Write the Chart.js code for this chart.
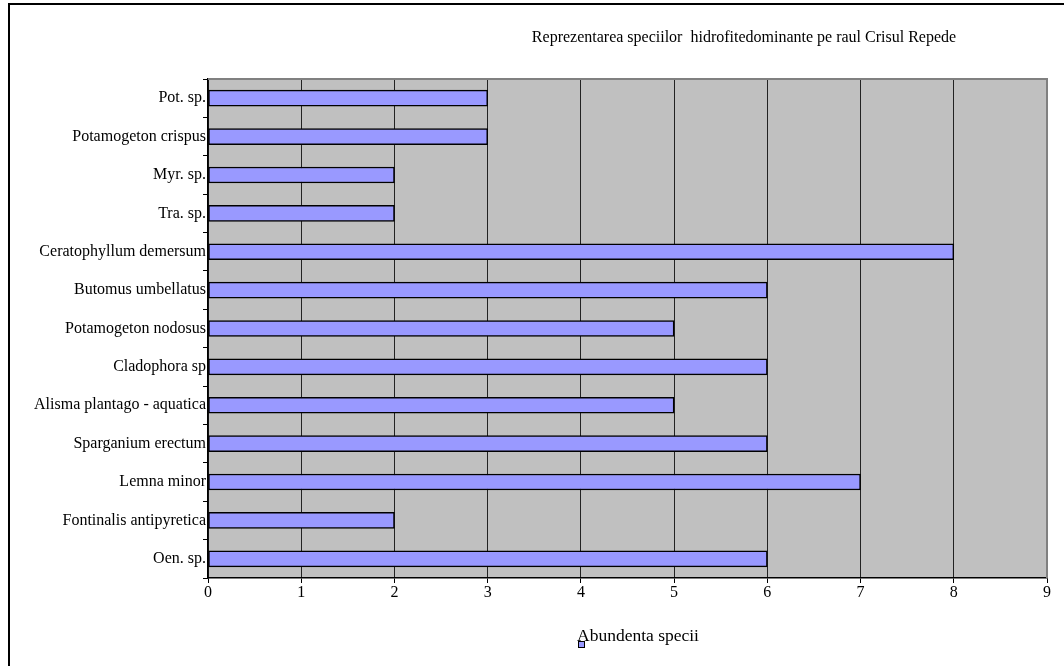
<!DOCTYPE html>
<html>
<head>
<meta charset="utf-8">
<script src="https://cdn.jsdelivr.net/npm/chart.js@4"></script>
<style>
  html, body { margin: 0; padding: 0; background: #fff; }
  #wrap { width: 1064px; height: 666px; }
</style>
</head>
<body>
<div id="wrap"><canvas id="myChart" width="1064" height="666"></canvas></div>
<script>
const titleText = 'Reprezentarea speciilor  hidrofitedominante pe raul Crisul Repede';
const seriesName = 'Abundenta specii';
const species = [
  'Pot. sp.',
  'Potamogeton crispus',
  'Myr. sp.',
  'Tra. sp.',
  'Ceratophyllum demersum',
  'Butomus umbellatus',
  'Potamogeton nodosus',
  'Cladophora sp',
  'Alisma plantago - aquatica',
  'Sparganium erectum',
  'Lemna minor',
  'Fontinalis antipyretica',
  'Oen. sp.',
];
const abundance = [3, 3, 2, 2, 8, 6, 5, 6, 5, 6, 7, 2, 6];
const xMin = 0;
const xMax = 9;

const FONT = '"Liberation Serif", "Times New Roman", serif';

// frame, grey plot area, title and the little legend
const decor = {
  id: 'decor',
  beforeDraw(chart) {
    const { ctx, chartArea: { top, bottom, left, right } } = chart;
    ctx.save();
    ctx.fillStyle = '#fff';
    ctx.fillRect(0, 0, chart.width, chart.height);
    ctx.strokeStyle = '#000';
    ctx.lineWidth = 2;
    ctx.strokeRect(9, 4, chart.width + 20, chart.height + 20);
    ctx.fillStyle = '#C0C0C0';
    ctx.fillRect(left, top, right - left, bottom - top);
    ctx.restore();
  },
  afterDatasetsDraw(chart) {
    const { ctx, chartArea: { top, bottom, left, right } } = chart;
    ctx.save();
    ctx.strokeStyle = '#808080';
    ctx.lineWidth = 2;
    ctx.beginPath();
    ctx.moveTo(left, top);
    ctx.lineTo(right, top);
    ctx.lineTo(right, bottom);
    ctx.stroke();

    ctx.fillStyle = '#000';
    ctx.font = '16px ' + FONT;
    ctx.textAlign = 'center';
    ctx.textBaseline = 'middle';
    ctx.fillText(titleText, 744, 38);

    ctx.font = '17.5px ' + FONT;
    ctx.textAlign = 'left';
    ctx.fillText(chart.data.datasets[0].label, 577, 636);
    ctx.fillStyle = chart.data.datasets[0].backgroundColor;
    ctx.fillRect(578, 641, 7, 7);
    ctx.strokeStyle = '#000';
    ctx.lineWidth = 1;
    ctx.strokeRect(578.5, 641.5, 6, 6);
    ctx.restore();
  },
};

const myChart = new Chart(document.getElementById('myChart'), {
  type: 'bar',
  data: {
    labels: species,
    datasets: [
      {
        label: seriesName,
        data: abundance,
        backgroundColor: '#9999FF',
        borderColor: '#000',
        borderWidth: 1.5,
        borderSkipped: false,
        barThickness: 16,
      },
    ],
  },
  options: {
    indexAxis: 'y',
    responsive: false,
    animation: false,
    layout: {
      padding: { left: 0, right: 17, top: 79, bottom: 0 },
    },
    plugins: {
      legend: { display: false },
      tooltip: { enabled: false },
      title: { display: false },
    },
    scales: {
      x: {
        min: xMin,
        max: xMax,
        afterFit(scale) {
          scale.height = 88;
        },
        ticks: {
          stepSize: 1,
          color: '#000',
          padding: 0,
          font: { family: FONT, size: 16 },
        },
        grid: {
          color: '#222',
          lineWidth: 1,
          tickLength: 5,
          tickColor: '#000',
        },
        border: { color: '#000', width: 1.5 },
      },
      y: {
        afterFit(scale) {
          scale.width = 208;
        },
        ticks: {
          color: '#000',
          padding: -3,
          autoSkip: false,
          font: { family: FONT, size: 16 },
        },
        grid: {
          drawOnChartArea: false,
          tickLength: 5,
          tickColor: '#000',
        },
        border: { color: '#000', width: 1.5 },
      },
    },
  },
  plugins: [decor],
});
</script>
</body>
</html>
